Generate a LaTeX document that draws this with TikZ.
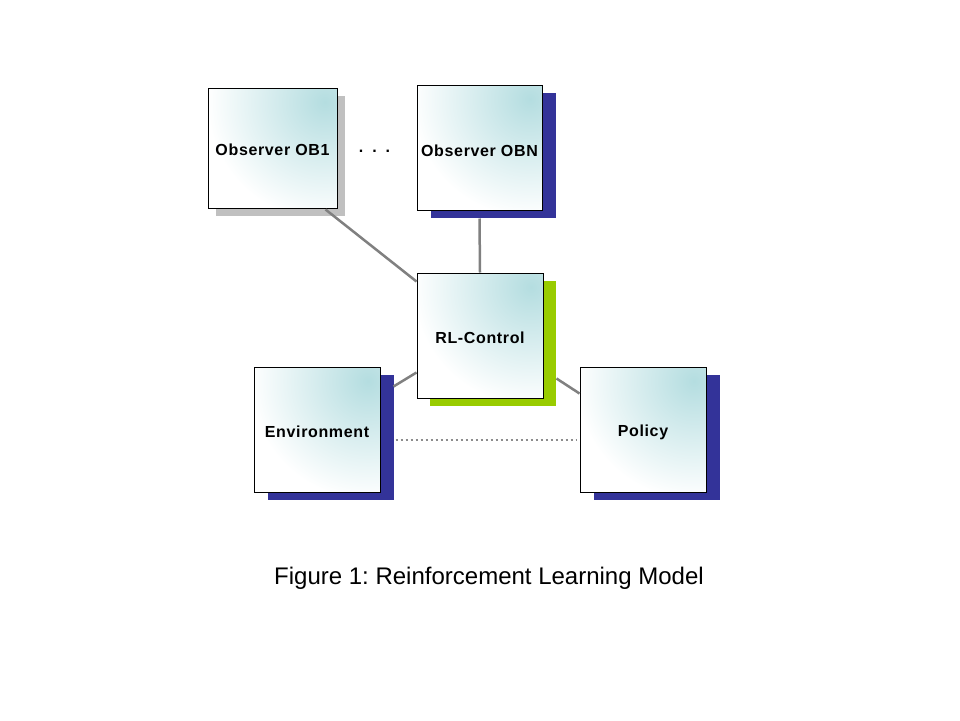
\documentclass[tikz,border=0pt]{standalone}
\usepackage{fontspec}
\setmainfont{Liberation Sans}
\newfontfamily\boxfont{Liberation Sans}[LetterSpace=4]
\usetikzlibrary{shadows,calc}
\definecolor{boxcyan}{RGB}{180,221,224}
\definecolor{shblue}{RGB}{51,51,153}
\definecolor{shgreen}{RGB}{153,204,0}
\definecolor{shgray}{RGB}{192,192,192}
\definecolor{conngray}{RGB}{128,128,128}
\definecolor{dotgray}{RGB}{140,140,140}
\newcommand\boxlabel[2]{\raisebox{-#1pt}[0pt][0pt]{#2}}
\tikzset{
  rlbox/.style={draw=black, line width=1pt, fill=white, inner sep=0pt,
    minimum width=126pt, minimum height=125pt,
    font=\boxfont\bfseries\fontsize{16}{19}\selectfont,
    path picture={\shade[inner color=boxcyan, outer color=white]
      ($(path picture bounding box.north east)+(-12,14)$) circle (118pt);}},
  blueshadow/.style={drop shadow={shadow xshift=13.5pt, shadow yshift=-7.5pt, fill=shblue, opacity=1}},
  greenshadow/.style={drop shadow={shadow xshift=13pt, shadow yshift=-7.5pt, fill=shgreen, opacity=1}},
  grayshadow/.style={drop shadow={shadow xshift=7.5pt, shadow yshift=-8pt, fill=shgray, opacity=1}},
  conn/.style={draw=conngray, line width=2.5pt},
  dotconn/.style={draw=dotgray, line width=2.5pt, dash pattern=on 2.5pt off 2.5pt},
}
\begin{document}
\begin{tikzpicture}[x=1pt,y=-1pt]
\useasboundingbox[fill=white] (0,0) rectangle (960,720);
\node[rlbox, grayshadow, minimum width=129pt, minimum height=120pt] (ob1) at (272.5,148) {\boxlabel{7.5}{Observer OB1}};
\node[rlbox, blueshadow, minimum width=125pt] (obn) at (479.5,147.5) {\boxlabel{9.25}{Observer OBN}};
\node[rlbox, greenshadow] (rl) at (480,335.5) {\boxlabel{8.25}{RL-Control}};
\node[rlbox, blueshadow] (env) at (317,429.5) {\boxlabel{8.25}{Environment}};
\node[rlbox, blueshadow] (pol) at (643,429.5) {\boxlabel{7}{Policy}};
\node[anchor=base, font=\bfseries\fontsize{16}{19}\selectfont] (dots) at (374.5,152) {.\hspace{9pt}.\hspace{9pt}.};
\draw[conn] ($(ob1.south east)+(-12,1)$) -- ($(rl.north west)+(0,9)$);
\draw[conn] ($(obn.south)+(0,8)$) -- (rl.north);
\draw[conn] ($(env.north east)+(13,20)$) -- ($(rl.south west)+(0,-26)$);
\draw[conn] ($(rl.south east)+(13,-20)$) -- ($(pol.north west)+(0,27)$);
\draw[dotconn] ($(env.east)+(15,10.5)$) -- ($(pol.west)+(-3,10.5)$);
\node[anchor=base, font=\fontsize{24}{29}\selectfont] (cap) at (489,584) {\frenchspacing Figure 1: Reinforcement Learning Model};
\end{tikzpicture}
\end{document}
